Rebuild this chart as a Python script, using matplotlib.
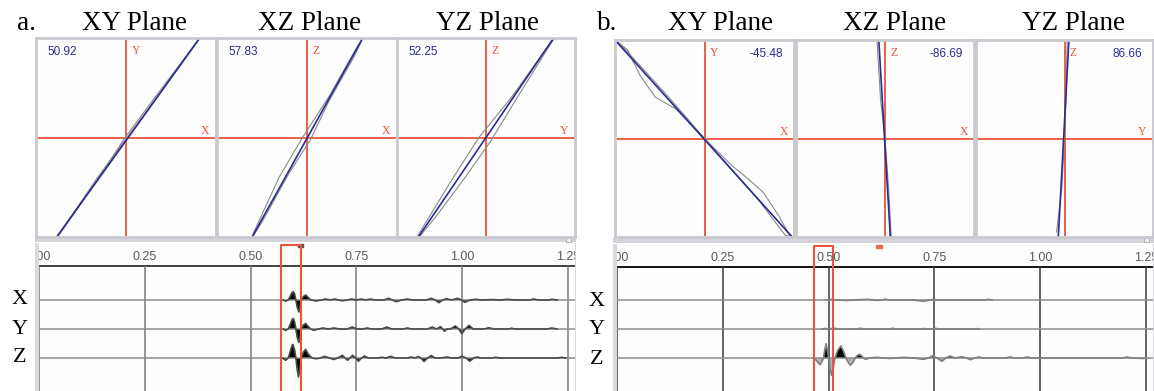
import matplotlib
matplotlib.use("Agg")
import matplotlib.pyplot as plt
from matplotlib.patches import Rectangle
import numpy as np

W, H = 1154, 391

# ── hodogram data (normalised box coords, -1..1) ────────────────────────────
planes  = ["XY Plane", "XZ Plane", "YZ Plane"]
h_labels = ["X", "X", "Y"]
v_labels = ["Y", "Z", "Z"]
a_angles = ["50.92", "57.83", "52.25"]
b_angles = ["-45.48", "-86.69", "86.66"]

a_blue_x = [[-0.77, 0.82], [-0.61, 0.62], [-0.76, 0.76]]
a_blue_y = [[-1.0, 1.0], [-1.0, 1.0], [-1.0, 1.0]]
a_gray_x = [
    [-0.76, -0.32, -0.01, 0.36, 0.82, 0.80, 0.38, 0.02, -0.33, -0.75],
    [-0.60, -0.31, -0.05, 0.25, 0.55, 0.62, 0.54, 0.24, 0.04, -0.20, -0.50, -0.59],
    [-0.77, -0.38, -0.08, 0.30, 0.72, 0.77, 0.69, 0.35, 0.05, -0.25, -0.55, -0.74],
]
a_gray_y = [
    [-1.00, -0.43, 0.00, 0.45, 1.00, 0.98, 0.45, 0.01, -0.42, -0.98],
    [-0.97, -0.40, 0.00, 0.42, 0.90, 1.00, 0.84, 0.36, -0.02, -0.36, -0.85, -0.98],
    [-0.99, -0.42, 0.00, 0.42, 0.95, 1.00, 0.89, 0.40, -0.04, -0.42, -0.78, -0.99],
]

b_blue_x = [[-1.0, 0.98], [-0.07, 0.06], [0.05, -0.07]]
b_blue_y = [[1.0, -1.0], [1.0, -1.0], [1.0, -1.0]]
b_gray_x = [
    [-0.97, -0.86, -0.72, -0.55, -0.32, 0.00, 0.30, 0.50, 0.66, 0.84, 0.96,
     0.90, 0.60, 0.30, 0.00, -0.40, -0.80, -0.97],
    [-0.09, -0.05, 0.00, 0.04, 0.07],
    [0.03, 0.02, 0.00, -0.03, -0.09],
]
b_gray_y = [
    [0.98, 0.90, 0.64, 0.42, 0.30, 0.00, -0.27, -0.42, -0.55, -0.80, -1.00,
     -0.98, -0.62, -0.31, 0.00, 0.42, 0.82, 0.98],
    [1.00, 0.40, 0.00, -0.50, -1.00],
    [1.00, 0.50, 0.00, -0.50, -0.95],
]

# ── seismogram data (time s, amplitude) ─────────────────────────────────────
ticks = [0.00, 0.25, 0.50, 0.75, 1.00, 1.25]

a_x_t = [0.577, 0.583, 0.589, 0.594, 0.598, 0.601, 0.604, 0.607, 0.610, 0.614, 0.617, 0.620,
         0.625, 0.630, 0.635, 0.642, 0.655, 0.668, 0.677, 0.688, 0.699, 0.708, 0.717, 0.728,
         0.739, 0.750, 0.761, 0.772, 0.783, 0.794, 0.815, 0.826, 0.835, 0.844, 0.857, 0.870,
         0.882, 0.915, 0.927, 0.936, 0.945, 0.954, 0.962, 0.975, 0.989, 0.998, 1.006, 1.019,
         1.032, 1.045, 1.072, 1.090, 1.107, 1.125, 1.160, 1.168, 1.180, 1.205, 1.212, 1.225]
a_x_a = [0, -1.2, 0, 4, 7.5, 8.3, 6, 0, -7, -12, -7, 0,
         3.5, 5, 3, 0, -1, 0, 1, 0, 1, 0, -0.8, 0,
         1, 0, 1, 0, 1, 0, 0, 1.7, 0, -1.7, 0, 1,
         0, 0, 1.7, 0, -2.7, 0, 1.3, 0, 1.7, 0, -2.3, 0,
         0.7, 0, 0.4, 0, 0.7, 0, 0, 1, 0, 0, 0.7, 0]

a_y_t = [0.577, 0.583, 0.589, 0.594, 0.598, 0.601, 0.604, 0.607, 0.610, 0.614, 0.617, 0.620,
         0.625, 0.630, 0.635, 0.642, 0.650, 0.660, 0.671, 0.684, 0.697, 0.710, 0.728, 0.740,
         0.752, 0.765, 0.775, 0.785, 0.810, 0.822, 0.834, 0.860, 0.870, 0.880, 0.918, 0.929,
         0.939, 0.949, 0.954, 0.958, 0.964, 0.972, 0.984, 0.992, 0.999, 1.007, 1.016, 1.026,
         1.052, 1.063, 1.075, 1.110, 1.116, 1.125, 1.200, 1.212, 1.224]
a_y_a = [0, -1.5, 0, 5, 9.5, 10.5, 7, 0, -8, -13.5, -8, 0,
         4, 5.5, 3, 0, -1.3, 0, 1, 0, 1, 0, 0, 2,
         0, 0, 1, 0, 0, 2, 0, 0, 1, 0, 0, 2,
         0, 2.3, 0, -2.3, 0, 0, 3, 0, -4.7, 0, 3.7, 0,
         0, 1.3, 0, 0, 0.8, 0, 0, 1, 0]

a_z_t = [0.575, 0.583, 0.589, 0.594, 0.598, 0.600, 0.604, 0.607, 0.610, 0.613, 0.617, 0.620,
         0.625, 0.630, 0.636, 0.645, 0.655, 0.665, 0.675, 0.686, 0.697, 0.706, 0.717, 0.723,
         0.729, 0.735, 0.741, 0.748, 0.755, 0.762, 0.769, 0.778, 0.800, 0.810, 0.820, 0.831,
         0.842, 0.870, 0.880, 0.888, 0.897, 0.902, 0.910, 0.918, 0.927, 0.936, 0.950, 0.964,
         0.975, 0.990, 1.000, 1.009, 1.018, 1.027, 1.035, 1.045, 1.070, 1.079, 1.090, 1.225,
         1.235, 1.245]
a_z_a = [0, -2.3, 0, 7, 12.5, 13.5, 8, 0, -11, -19, -11, 0,
         6, 8.7, 4, 0, -0.8, 0, 1.7, 0, -1.5, 0, 2.7, 0,
         -2.3, 0, 2.7, 0, -3.3, 0, 2, 0, 0, 0.7, 0, 1.7,
         0, 0, 1, 0, 1.5, 0, -3.5, 0, 2.5, 0, 0, 1,
         0, 0, 1.8, 0, -3.3, 0, 1, 0, 0, 0.7, 0, 0,
         0.7, 0]

b_x_t = [0.495, 0.508, 0.520, 0.540, 0.560, 0.594, 0.605, 0.615, 0.625, 0.634, 0.645,
         0.700, 0.724, 0.740, 0.748, 0.756, 0.870, 0.878, 0.886]
b_x_a = [0, 0.6, 0, -0.5, 0, 0.7, 0, -0.4, 0, 0.8, 0,
         0, -1.3, 0, 0.7, 0, 0, 0.7, 0]

b_y_t = [0.485, 0.492, 0.500, 0.512, 0.525, 0.565, 0.575, 0.585, 0.645, 0.651, 0.658,
         0.720, 0.726, 0.732, 0.748, 0.753, 0.760, 0.848, 0.852, 0.856]
b_y_a = [0, 0.5, 0, 0.7, 0, 0, 0.7, 0, 0, 0.7, 0,
         0, 0.5, 0, 0, 0.6, 0, 0, 0.4, 0]

b_z_t = [0.463, 0.4705, 0.476, 0.480, 0.485, 0.488, 0.491, 0.494, 0.497, 0.500, 0.503, 0.507,
         0.511, 0.515, 0.522, 0.529, 0.535, 0.541, 0.547, 0.552, 0.558, 0.563, 0.568, 0.573,
         0.578, 0.582, 0.588, 0.596, 0.614, 0.630, 0.645, 0.660, 0.677, 0.700, 0.724, 0.736,
         0.746, 0.756, 0.768, 0.777, 0.787, 0.799, 0.815, 0.826, 0.835, 0.845, 0.854, 0.865,
         0.918, 0.929, 0.940, 0.958, 0.969, 0.980, 1.195, 1.205, 1.215, 1.241, 1.250]
b_z_a = [0, -2.3, -5, -6.7, -3, 0, 8, 14.3, 8, 0, -10, -17.3,
         -10, 0, 8, 12, 7, 0, -5, -7.3, -4, 0, 2.5, 3.7,
         2.2, 0, -1.3, 0, 0.7, 0, -0.4, 0, 0.6, 0, -1.3, 0,
         2.3, 0, -3.3, 0, 2, 0, 1.3, 0, -1.7, 0, 1, 0,
         0, 1, 0, 0, 1, 0, 0, 1, 0, -0.5, 0]

a_window = (0.573, 0.618)
b_window = (0.466, 0.511)
a_marker, b_marker = 0.618, 0.619

# ── style ───────────────────────────────────────────────────────────────────
RED    = "#e8553a"
BLUE   = "#2b2b95"
FRAME  = "#c9c9cf"
SERIF  = "Liberation Serif"
SANS   = "Liberation Sans"
AMP    = 1 / 29.0          # amplitude -> trace spacing

fig = plt.figure(figsize=(W / 100, H / 100), dpi=100)
fig.patch.set_facecolor("white")


def px_axes(x0, y0, x1, y1, **kw):
    return fig.add_axes([x0 / W, 1 - y1 / H, (x1 - x0) / W, (y1 - y0) / H], **kw)


def px_rect(x0, y0, x1, y1, fc, ec="none", lw=0, z=-5):
    fig.patches.append(Rectangle((x0 / W, 1 - y1 / H), (x1 - x0) / W, (y1 - y0) / H,
                                 transform=fig.transFigure, fc=fc, ec=ec, lw=lw, zorder=z))


def hodogram(box, bx, by, gx, gy, number, num_left, hl, vl):
    ax = px_axes(*box)
    ax.set_facecolor("#fdfdfd")
    ax.set_xlim(-1, 1)
    ax.set_ylim(-1, 1)
    ax.set_xticks([]); ax.set_yticks([])
    for s in ax.spines.values():
        s.set_color(FRAME); s.set_linewidth(2)
    ax.axhline(0, color=RED, lw=1.3)
    ax.axvline(0, color=RED, lw=1.3)
    ax.plot(gx, gy, color="#8a8a8a", lw=0.8)
    ax.plot(bx, by, color=BLUE, lw=1.2)
    ax.text(0.53, 0.935, vl, transform=ax.transAxes, color=RED, family=SERIF,
            fontsize=8.5, ha="left", va="center")
    ax.text(0.965, 0.535, hl, transform=ax.transAxes, color=RED, family=SERIF,
            fontsize=8.5, ha="right", va="center")
    if num_left:
        ax.text(0.065, 0.93, number, transform=ax.transAxes, color=BLUE, family=SANS,
                fontsize=8.5, ha="left", va="center")
    else:
        ax.text(0.94, 0.93, number, transform=ax.transAxes, color=BLUE, family=SANS,
                fontsize=8.5, ha="right", va="center")


def seismo(x0, y0, x1, traces, window, marker_t, marker_c, neg_c, grid_c, top_c, line_c):
    # separator bar and frame
    px_rect(x0 - 4, y0 - 6, x1 + 1, y0 - 1, "#d3d3d9")
    px_rect(x1 - 9, y0 - 5.5, x1 - 4, y0 - 1.5, "#f0f0f0", ec="#a8a8ae", lw=0.6, z=-4)
    px_rect(x0 - 4, y0, x1 + 1, H + 2, "#d9d9de")
    ax = px_axes(x0, y0, x1, H)
    ax.set_facecolor("#fdfdfd")
    for s in ax.spines.values():
        s.set_visible(False)
    ax.set_xticks([]); ax.set_yticks([])
    tmax = (x1 - x0) / 423.2
    ax.set_xlim(0, tmax)
    ytop = 1 + (358 - y0) / 29.0
    ax.set_ylim(1 - 33 / 29.0, ytop)
    top_line = ytop - 23 / 29.0
    ax.axhline(top_line, color=top_c, lw=1.3)
    ax.vlines(ticks, -1, top_line, color=grid_c, lw=1.1)
    ax.hlines([3, 2, 1], 0, tmax, color="#8c8c8c", lw=1.1)
    for t in ticks:
        ax.text(t, ytop - 14 / 29.0, f"{t:.2f}", ha="center", va="center",
                fontsize=9, color="#5a5a5a", family=SANS, clip_on=True)
    for base, (tt, aa) in zip([3, 2, 1], traces):
        tt = np.asarray(tt); aa = np.asarray(aa)
        yy = base + aa * AMP
        ax.fill_between(tt, base, yy, where=aa >= 0, interpolate=True, color="black", lw=0)
        ax.fill_between(tt, base, yy, where=aa <= 0, interpolate=True, color=neg_c, lw=0)
        ax.plot(tt, yy, color=line_c, lw=1.2)
    t0, t1 = window
    wtop = ytop - 2 / 29.0
    ax.plot([t0, t0, t1, t1], [-1, wtop, wtop, -1], color=RED, lw=1.5)
    ax.add_patch(Rectangle((marker_t - 0.007, wtop - 0.06), 0.014, 0.1, color=marker_c))
    return ax


# ── panel a ─────────────────────────────────────────────────────────────────
a_boxes = [(36, 38, 216, 237), (217, 38, 397, 237), (397, 38, 575, 237)]
for i, box in enumerate(a_boxes):
    hodogram(box, a_blue_x[i], a_blue_y[i], a_gray_x[i], a_gray_y[i],
             a_angles[i], True, h_labels[i], v_labels[i])
seismo(39, 243, 575, [(a_x_t, a_x_a), (a_y_t, a_y_a), (a_z_t, a_z_a)],
       a_window, a_marker, "#555555", "black", "#7a7a7a", "#333333", "#4a4a4a")

# ── panel b ─────────────────────────────────────────────────────────────────
b_boxes = [(615, 40, 794, 237), (796, 40, 974, 237), (976, 40, 1153, 237)]
for i, box in enumerate(b_boxes):
    hodogram(box, b_blue_x[i], b_blue_y[i], b_gray_x[i], b_gray_y[i],
             b_angles[i], False, h_labels[i], v_labels[i])
seismo(617, 244, 1153, [(b_x_t, b_x_a), (b_y_t, b_y_a), (b_z_t, b_z_a)],
       b_window, b_marker, "#e07050", "#b4b4b4", "#3a3a3a", "black", "#808080")

# ── titles and trace labels ─────────────────────────────────────────────────
title_x_a = [135, 310, 487]
title_x_b = [720, 895, 1073]
for name, xa, xb in zip(planes, title_x_a, title_x_b):
    fig.text(xa / W, 1 - 30 / H, name, ha="center", va="baseline", family=SERIF, fontsize=19.5)
    fig.text(xb / W, 1 - 30 / H, name, ha="center", va="baseline", family=SERIF, fontsize=19.5)
fig.text(17 / W, 1 - 30 / H, "a.", ha="left", va="baseline", family=SERIF, fontsize=19.5)
fig.text(597 / W, 1 - 30 / H, "b.", ha="left", va="baseline", family=SERIF, fontsize=19.5)

for lab, y in zip(["X", "Y", "Z"], [300, 329, 358]):
    fig.text(20 / W, 1 - y / H, lab, ha="center", va="center", family=SERIF, fontsize=16)
    fig.text(597 / W, 1 - (y + 1) / H, lab, ha="center", va="center", family=SERIF, fontsize=16)

fig.savefig("out.png", dpi=100)
